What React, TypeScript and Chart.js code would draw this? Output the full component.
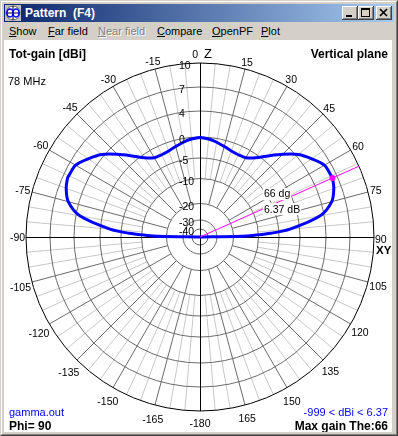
import React, { useEffect, useRef } from "react";
import { Chart, registerables } from "chart.js";

Chart.register(...registerables);

// ---- data ----
const THETA_DEG = [-90, -89, -88, -87, -85, -80, -75, -70, -66, -65, -60, -55, -50, -45, -40, -35, -30, -25, -20, -15, -10, -5, 0, 5, 10, 15, 20, 25, 30, 35, 40, 45, 50, 55, 60, 65, 66, 70, 75, 80, 85, 87, 88, 89, 90];
const GAIN_DBI = [-999, -17, -11, -7, -2.3, 3.4, 5.3, 6.05, 6.37, 6.35, 6.2, 5.3, 4.3, 2.6, 0.9, -0.8, -2.0, -2.2, -2.0, -1.5, -0.9, -0.4, -0.1, -0.4, -0.9, -1.5, -2.0, -2.2, -2.0, -0.8, 0.9, 2.6, 4.3, 5.3, 6.2, 6.35, 6.37, 6.05, 5.3, 3.4, -2.3, -7, -11, -17, -999];
const RING_DB = [10, 7, 4, 0, -5, -10, -20, -30, -40];
const RING_LABELS = ["10", "7", "4", "0", "-5", "-10", "-20", "-30", "-40"];
const ANGLE_TICKS = [0, 15, 30, 45, 60, 75, 90, 105, 120, 135, 150, 165, -15, -30, -45, -60, -75, -90, -105, -120, -135, -150, -165, -180];
const ANGLE_LABELS = ["0", "15", "30", "45", "60", "75", "90", "105", "120", "135", "150", "165", "-15", "-30", "-45", "-60", "-75", "-90", "-105", "-120", "-135", "-150", "-165", "-180"];
const MAX_THETA = 66;
const MAX_GAIN = 6.37;
const FREQ_LABEL = "78 MHz";
const PHI = 90;
const MIN_DBI = -999;

// ---- ARRL-like radial gain scale (dB -> radius in plot units) ----
const SCALE_DB = [10, 7, 4, 0, -5, -10, -20, -30, -40];
const SCALE_R = [174, 150, 126, 100, 79, 58.5, 33.5, 17, 8];
function rOf(db: number): number {
  if (db >= SCALE_DB[0]) return SCALE_R[0];
  for (let i = 0; i < SCALE_DB.length - 1; i++) {
    if (db >= SCALE_DB[i + 1]) {
      const f = (db - SCALE_DB[i + 1]) / (SCALE_DB[i] - SCALE_DB[i + 1]);
      return SCALE_R[i + 1] + f * (SCALE_R[i] - SCALE_R[i + 1]);
    }
  }
  return Math.max(0, SCALE_R[SCALE_R.length - 1] + (db + 40) * 0.8);
}

const FONT = '"Liberation Sans", Arial, sans-serif';
const D = Math.PI / 180;

const polarPlugin = {
  id: "polarGrid",
  beforeDatasetsDraw(chart: any) {
    const { ctx, scales } = chart;
    const xs = scales.x, ys = scales.y;
    const cx = xs.getPixelForValue(0), cy = ys.getPixelForValue(0);
    const P = (r: number, a: number) => [xs.getPixelForValue(r * Math.sin(a * D)), ys.getPixelForValue(r * Math.cos(a * D))];
    const rPx = (r: number) => xs.getPixelForValue(r) - cx;
    const rOut = rOf(RING_DB[0]);
    ctx.save();
    ctx.lineWidth = 1;
    // light radials (every 5 deg)
    ctx.strokeStyle = "#c8c8c8";
    ctx.beginPath();
    for (let a = 0; a < 360; a += 5) {
      if (a % 15 === 0) continue;
      const [x1, y1] = P(rOf(-10), a);
      const [x2, y2] = P(rOut, a);
      ctx.moveTo(x1, y1);
      ctx.lineTo(x2, y2);
    }
    ctx.stroke();
    // dark radials (every 15 deg)
    ctx.strokeStyle = "#6a6a6a";
    ctx.beginPath();
    for (let a = 0; a < 360; a += 15) {
      if (a % 90 === 0) continue;
      const [x1, y1] = P(rOf(-20), a);
      const [x2, y2] = P(rOut, a);
      ctx.moveTo(x1, y1);
      ctx.lineTo(x2, y2);
    }
    ctx.stroke();
    // rings
    for (let i = 1; i < RING_DB.length; i++) {
      ctx.beginPath();
      ctx.arc(cx, cy, rPx(rOf(RING_DB[i])), 0, Math.PI * 2);
      ctx.stroke();
    }
    // outer ring
    ctx.strokeStyle = "#000";
    ctx.beginPath();
    ctx.arc(cx, cy, rPx(rOut), 0, Math.PI * 2);
    ctx.stroke();
    // axes
    const R = rPx(rOut);
    ctx.beginPath();
    ctx.moveTo(Math.round(cx) + 0.5, cy - R);
    ctx.lineTo(Math.round(cx) + 0.5, cy + R);
    ctx.moveTo(cx - R, Math.round(cy) + 0.5);
    ctx.lineTo(cx + R, Math.round(cy) + 0.5);
    ctx.stroke();
    ctx.restore();
  },
  afterDatasetsDraw(chart: any) {
    const { ctx, scales } = chart;
    const xs = scales.x, ys = scales.y;
    const cx = xs.getPixelForValue(0), cy = ys.getPixelForValue(0);
    const P = (r: number, a: number) => [xs.getPixelForValue(r * Math.sin(a * D)), ys.getPixelForValue(r * Math.cos(a * D))];
    const rOut = rOf(RING_DB[0]);
    ctx.save();
    ctx.fillStyle = "#000";
    ctx.textBaseline = "alphabetic";
    // ring labels
    ctx.font = `10.5px ${FONT}`;
    ctx.textAlign = "left";
    for (let i = 0; i < RING_DB.length; i++) {
      const [, y] = P(rOf(RING_DB[i]), 0);
      ctx.fillText(RING_LABELS[i], cx - 21, y + 6);
    }
    // angle labels
    for (let i = 0; i < ANGLE_TICKS.length; i++) {
      const a = ANGLE_TICKS[i];
      const txt = ANGLE_LABELS[i];
      const [px, py] = P(rOut, a);
      ctx.font = `10.5px ${FONT}`;
      if (a === 0) {
        ctx.textAlign = "right";
        ctx.fillText(txt, px - 2, py - 5);
        ctx.textAlign = "left";
        ctx.font = `13px ${FONT}`;
        ctx.fillText("Z", px + 4, py - 5);
        continue;
      }
      if (a === 90) {
        ctx.textAlign = "left";
        ctx.fillText(txt, px + 1, py + 6);
        ctx.font = `bold 11.5px ${FONT}`;
        ctx.fillText("XY", px + 2, py + 16.5);
        continue;
      }
      const s = Math.sin(a * D), c = Math.cos(a * D);
      const w = ctx.measureText(txt).width;
      const hw = (w / 2) * 0.85, hh = 4.5;
      const d = hw * Math.abs(s) + hh * Math.abs(c) + 2;
      const tx = px + s * d;
      const ty = py - c * d + (c < 0 ? 5 * -c : 0) + 0.5;
      ctx.textAlign = "center";
      ctx.fillText(txt, tx, ty + 3.8);
    }
    // max gain labels
    const [mx, my] = P(rOut / 2, MAX_THETA);
    ctx.font = `10.5px ${FONT}`;
    ctx.textAlign = "left";
    const t1 = `${MAX_THETA} dg`, t2 = `${MAX_GAIN.toFixed(2)} dB`;
    const w1 = ctx.measureText(t1).width, w2 = ctx.measureText(t2).width;
    ctx.fillStyle = "#fff";
    ctx.fillRect(mx - 16.5, my - 13.5, w1 + 2, 12);
    ctx.fillRect(mx - 16.5, my + 1.5, w2 + 2, 12);
    ctx.fillStyle = "#000";
    ctx.fillText(t1, mx - 15.5, my - 4.5);
    ctx.fillText(t2, mx - 15.5, my + 11.5);
    // corner texts
    const W = chart.width;
    ctx.font = `bold 12px ${FONT}`;
    ctx.textAlign = "left";
    ctx.fillText("Tot-gain [dBi]", 5, 18);
    ctx.fillText(`Phi= ${PHI}`, 5, 389.5);
    ctx.textAlign = "right";
    ctx.fillText("Vertical plane", W - 4, 18);
    ctx.fillText(`Max gain The:${MAX_THETA}`, W - 4, 389.5);
    ctx.font = `11px ${FONT}`;
    ctx.textAlign = "left";
    ctx.fillText(FREQ_LABEL, 4, 45);
    ctx.fillStyle = "#0000ff";
    ctx.fillText("gamma.out", 5, 375.5);
    ctx.textAlign = "right";
    ctx.fillText(`${MIN_DBI} < dBi < ${MAX_GAIN.toFixed(2)}`, W - 4, 375.5);
    ctx.restore();
  },
};

const btnStyle: React.CSSProperties = {
  position: "absolute",
  top: 6,
  width: 16,
  height: 14,
  background: "#d4d0c8",
  boxShadow: "inset -1px -1px #404040, inset 1px 1px #ffffff, inset -2px -2px #808080, inset 2px 2px #d4d0c8",
};

const MENU = [
  { t: "Show", x: 9, dis: false },
  { t: "Far field", x: 48, dis: false },
  { t: "Near field", x: 98, dis: true },
  { t: "Compare", x: 157, dis: false },
  { t: "OpenPF", x: 212, dis: false },
  { t: "Plot", x: 261, dis: false },
];

export default function App() {
  const ref = useRef<HTMLCanvasElement>(null);
  useEffect(() => {
    const canvas = ref.current!;
    const curve = THETA_DEG.map((t, i) => {
      const r = rOf(GAIN_DBI[i]);
      return { x: r * Math.sin(t * D), y: r * Math.cos(t * D) };
    });
    const rOut = rOf(RING_DB[0]);
    const rm = rOf(MAX_GAIN);
    const maxLine = [
      { x: 0, y: 0 },
      { x: rOut * Math.sin(MAX_THETA * D), y: rOut * Math.cos(MAX_THETA * D) },
    ];
    const maxPt = [{ x: rm * Math.sin(MAX_THETA * D), y: rm * Math.cos(MAX_THETA * D) }];
    const chart = new Chart(canvas, {
      type: "scatter",
      data: {
        datasets: [
          { data: maxPt, pointRadius: 3, pointBackgroundColor: "#ff00ff", pointBorderColor: "#ff00ff", pointBorderWidth: 0, showLine: false, order: 0 } as any,
          { data: maxLine, showLine: true, borderColor: "#ff00ff", borderWidth: 1, pointRadius: 0, order: 1 } as any,
          { data: curve, showLine: true, borderColor: "#0000ff", borderWidth: 3, pointRadius: 0, tension: 0.3, order: 2 } as any,
        ],
      },
      options: {
        responsive: false,
        animation: false,
        devicePixelRatio: 1,
        events: [],
        layout: { padding: { left: 22, right: 18, top: 23, bottom: 21 } },
        scales: {
          x: { type: "linear", min: -174, max: 174, display: false },
          y: { type: "linear", min: -174, max: 174, display: false },
        },
        plugins: { legend: { display: false }, tooltip: { enabled: false } },
      } as any,
      plugins: [polarPlugin],
    });
    return () => chart.destroy();
  }, []);

  return (
    <div
      style={{
        position: "fixed",
        left: 0,
        top: 0,
        width: 398,
        height: 436,
        boxSizing: "border-box",
        background: "#d4d0c8",
        borderTop: "1px solid #d4d0c8",
        borderLeft: "1px solid #d4d0c8",
        borderRight: "1px solid #404040",
        borderBottom: "1px solid #404040",
        fontFamily: FONT,
        overflow: "hidden",
      }}
    >
      <div
        style={{
          position: "absolute",
          left: 0,
          top: 0,
          right: 0,
          bottom: 0,
          borderTop: "1px solid #ffffff",
          borderLeft: "1px solid #ffffff",
          borderRight: "1px solid #808080",
          borderBottom: "1px solid #808080",
        }}
      />
      {/* title bar */}
      <div
        style={{
          position: "absolute",
          left: 3,
          top: 3,
          width: 390,
          height: 18,
          background: "linear-gradient(to right, #0a246a, #a6caf0)",
        }}
      >
        <svg width={16} height={16} style={{ position: "absolute", left: 1, top: 1 }}>
          <rect x={0} y={0} width={16} height={16} fill="#c0c0c0" />
          <circle cx={8} cy={8} r={7} fill="#ffffff" stroke="#606060" />
          <line x1={8} y1={1} x2={8} y2={15} stroke="#000" />
          <line x1={1} y1={8} x2={15} y2={8} stroke="#000" />
          <ellipse cx={5} cy={8} rx={3} ry={4} fill="none" stroke="#0000ff" strokeWidth={1.5} />
          <ellipse cx={11} cy={8} rx={3} ry={4} fill="none" stroke="#0000ff" strokeWidth={1.5} />
        </svg>
        <div
          style={{
            position: "absolute",
            left: 21,
            top: 2,
            color: "#fff",
            font: `bold 12px ${FONT}`,
            lineHeight: "14px",
            whiteSpace: "pre",
          }}
        >
          {"Pattern  (F4)"}
        </div>
        <div style={{ ...btnStyle, left: 338, top: 2 }}>
          <svg width={16} height={14} style={{ position: "absolute", left: 0, top: 0 }}>
            <rect x={4} y={9} width={6} height={2} fill="#000" />
          </svg>
        </div>
        <div style={{ ...btnStyle, left: 354, top: 2 }}>
          <svg width={16} height={14} style={{ position: "absolute", left: 0, top: 0 }}>
            <rect x={3.5} y={2.5} width={8} height={8} fill="none" stroke="#000" />
            <rect x={3} y={2} width={9} height={2} fill="#000" />
          </svg>
        </div>
        <div style={{ ...btnStyle, left: 372, top: 2 }}>
          <svg width={16} height={14} style={{ position: "absolute", left: 0, top: 0 }}>
            <path d="M4 3 L11 10 M11 3 L4 10" stroke="#000" strokeWidth={1.6} />
          </svg>
        </div>
      </div>
      {/* menu bar */}
      {MENU.map((m) => (
        <div
          key={m.t}
          style={{
            position: "absolute",
            left: m.x - 1,
            top: 25,
            font: `11px ${FONT}`,
            lineHeight: "11px",
            whiteSpace: "pre",
            color: m.dis ? "#808080" : "#000",
            textShadow: m.dis ? "1px 1px #ffffff" : "none",
          }}
        >
          <u>{m.t[0]}</u>
          {m.t.slice(1)}
        </div>
      ))}
      {/* client canvas */}
      <canvas
        ref={ref}
        width={388}
        height={392}
        style={{ position: "absolute", left: 3, top: 39, width: 388, height: 392, background: "#ffffff", display: "block" }}
      />
    </div>
  );
}
